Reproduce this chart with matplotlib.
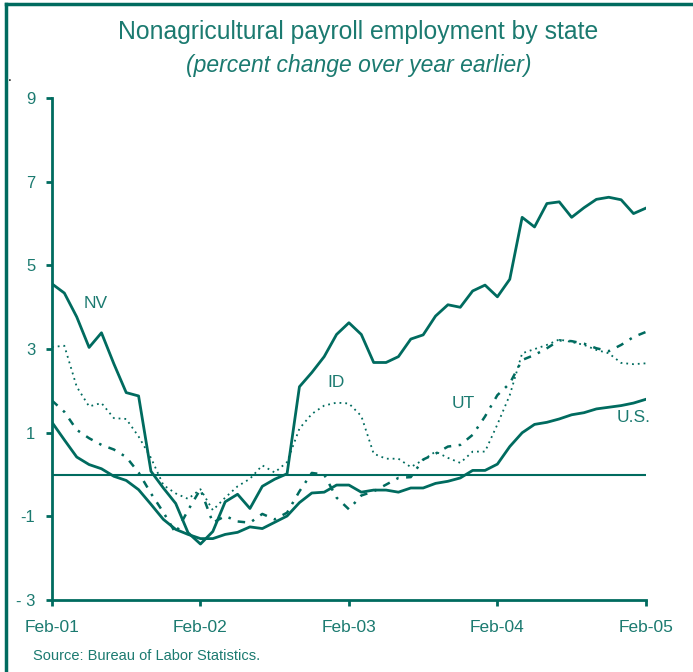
import matplotlib
matplotlib.use("Agg")
from matplotlib import pyplot as plt
from matplotlib.lines import Line2D

# monthly values, Feb-01 .. Feb-05 (percent change over year earlier)
nv = [4.56, 4.34, 3.77, 3.04, 3.39, 2.65, 1.96, 1.88, 0.08, -0.32,
      -0.69, -1.39, -1.66, -1.36, -0.65, -0.47, -0.81, -0.28, -0.11, 0.02,
      2.10, 2.44, 2.82, 3.35, 3.63, 3.35, 2.68, 2.68, 2.82, 3.24,
      3.34, 3.79, 4.06, 4.00, 4.39, 4.53, 4.25, 4.67, 6.15, 5.92,
      6.48, 6.52, 6.15, 6.38, 6.58, 6.63, 6.57, 6.24, 6.37]
us = [1.25, 0.83, 0.42, 0.24, 0.14, -0.04, -0.14, -0.36, -0.71, -1.07,
      -1.31, -1.43, -1.53, -1.53, -1.43, -1.38, -1.25, -1.29, -1.14, -0.99,
      -0.67, -0.44, -0.42, -0.25, -0.25, -0.42, -0.37, -0.37, -0.42, -0.32,
      -0.32, -0.21, -0.16, -0.08, 0.10, 0.10, 0.25, 0.67, 1.00, 1.20,
      1.25, 1.33, 1.43, 1.48, 1.57, 1.61, 1.65, 1.71, 1.80]
idaho = [3.05, 3.08, 2.10, 1.63, 1.71, 1.35, 1.33, 0.91, 0.40, -0.25,
         -0.45, -0.58, -0.35, -0.85, -0.55, -0.28, -0.10, 0.22, 0.05, 0.30,
         1.10, 1.45, 1.65, 1.72, 1.70, 1.40, 0.50, 0.38, 0.38, 0.18,
         0.35, 0.55, 0.40, 0.28, 0.55, 0.55, 1.20, 1.90, 2.90, 3.00,
         3.10, 3.23, 3.17, 3.10, 2.98, 2.90, 2.67, 2.64, 2.66]
ut = [1.77, 1.50, 1.07, 0.87, 0.71, 0.60, 0.42, 0.05, -0.45, -0.90,
      -1.40, -0.85, -0.35, -1.15, -0.99, -1.12, -1.15, -0.94, -1.07, -0.91,
      -0.40, 0.04, 0.00, -0.55, -0.83, -0.50, -0.40, -0.24, -0.08, -0.06,
      0.36, 0.50, 0.67, 0.71, 0.95, 1.39, 1.90, 2.18, 2.74, 2.86,
      3.02, 3.21, 3.19, 3.13, 3.02, 2.95, 3.10, 3.29, 3.41]
tick_labels = ["Feb-01", "Feb-02", "Feb-03", "Feb-04", "Feb-05"]
y_ticks = [-3, -1, 1, 3, 5, 7, 9]

teal = "#006B5F"
txt = "#1B7A70"
plt.rcParams["font.family"] = ["Liberation Sans Narrow", "Liberation Sans", "DejaVu Sans"]

def main():
    months = list(range(len(nv)))

    fig = plt.figure(figsize=(6.93, 6.72), dpi=100)
    ax = fig.add_axes([0.075, 0.107, 0.857, 0.747])

    ax.axhline(0, color=teal, lw=1.5, zorder=1)
    ax.plot(months, nv, color=teal, lw=2)
    ax.plot(months, us, color=teal, lw=2)
    ax.plot(months, idaho, color=teal, lw=1.3, linestyle=(0, (1, 2.2)))
    ax.plot(months, ut, color=teal, lw=1.8, linestyle=(0, (3, 3, 1, 3)))

    ax.set_xlim(0, 48)
    ax.set_ylim(-3, 9)
    ax.set_xticks([0, 12, 24, 36, 48])
    ax.set_xticklabels(tick_labels)
    ax.set_yticks(y_ticks)
    ax.set_yticklabels(["- 3" if v == -3 else str(v) for v in y_ticks])

    for s in ["top", "right"]:
        ax.spines[s].set_visible(False)
    for s in ["left", "bottom"]:
        ax.spines[s].set_color(teal)
        ax.spines[s].set_linewidth(2)
    ax.tick_params(axis="both", colors=teal, width=2, length=4, labelcolor=txt)
    ax.tick_params(axis="x", labelsize=12.5, pad=10)
    ax.tick_params(axis="y", labelsize=12, pad=8)

    ax.text(3.5, 4.1, "NV", color=txt, fontsize=12.5, ha="center", va="center")
    ax.text(23.0, 2.2, "ID", color=txt, fontsize=12.5, ha="center", va="center")
    ax.text(33.2, 1.7, "UT", color=txt, fontsize=12.5, ha="center", va="center")
    ax.text(47.0, 1.37, "U.S.", color=txt, fontsize=12.5, ha="center", va="center")

    fig.text(0.517, 0.952, "Nonagricultural payroll employment by state",
             color=txt, fontsize=17.8, ha="center", va="center")
    fig.text(0.517, 0.903, "(percent change over year earlier)",
             color=txt, fontsize=16.5, style="italic", ha="center", va="center")
    fig.text(0.047, 0.024, "Source: Bureau of Labor Statistics.",
             color=txt, fontsize=10.5, ha="left", va="center")
    fig.text(0.014, 0.886, ".", color="black", fontsize=10, ha="center", va="center")

    # frame on the left and top edge
    fig.add_artist(Line2D([0.008, 0.008], [0.0, 0.994], color=teal, lw=2.5))
    fig.add_artist(Line2D([0.008, 1.0], [0.994, 0.994], color=teal, lw=2.5))

    fig.savefig("out.png", dpi=100)

if __name__ == "__main__":
    main()
